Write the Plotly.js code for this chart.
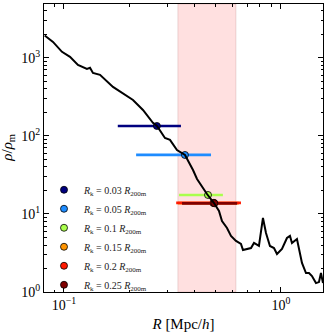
<!DOCTYPE html>
<html>
<head>
<meta charset="utf-8">
<script src="https://cdn.plot.ly/plotly-3.0.1.min.js"></script>
<style>
html,body{margin:0;padding:0;background:#fff;}
#chart{width:328px;height:332px;}
</style>
</head>
<body>
<div id="chart"></div>
<script>
// density profile rho/rho_m against R [Mpc/h]
const profR = [0.0815,0.0890,0.0979,0.1066,0.1160,0.1276,0.1318,0.1360,0.1466,0.1682,
0.2080,0.2312,0.2570,0.2683,0.2920,0.3080,0.3317,0.3611,0.3932,0.4103,
0.4560,0.4912,0.5180,0.5348,0.5640,0.5884,0.6204,0.6541,0.6682,0.7275,
0.7510,0.7915,0.8260,0.8530,0.8896,0.9284,0.9585,1.0107,1.0656,1.1002,
1.1238,1.1849,1.2496,1.3037,1.3459,1.3895,1.4497,1.4966,1.5288,1.562];
const profRho = [1930,1600,1194,1030,813,723,745,642,606,424,
289,215,147,134,94,89,66,57,36.6,28.1,
18.0,13.8,10.9,8.13,6.62,5.23,4.51,4.12,3.45,3.66,
4.25,3.89,8.89,5.70,3.89,3.66,3.07,3.56,4.92,5.23,
4.25,4.78,2.36,1.75,1.75,1.60,1.30,1.34,1.75,1.30];

// R_k estimates: point, horizontal extent, level
const rkLabels = ["0.03","0.05","0.1","0.15","0.2","0.25"];
const rkColors = ["#00007f","#1e8cff","#aaff4d","#ff9400","#ff1a00","#7f0000"];
const rkPoint = [0.268,0.361,0.461,0.488,0.491,0.493];
const rkLow = [0.177,0.215,0.339,0.335,0.329,0.350];
const rkHigh = [0.346,0.476,0.540,0.640,0.654,0.628];
const rkRho = [134,57,17.5,13.8,13.9,13.7];

// shaded band
const bandLo = 0.335;
const bandHi = 0.620;

const xTickVals = [0.1,1];
const xTickText = ["10<sup>−1</sup>","10<sup>0</sup>"];
const yTickVals = [1,10,100,1000];
const yTickText = ["10<sup>0</sup>","10<sup>1</sup>","10<sup>2</sup>","10<sup>3</sup>"];

const serif = "Liberation Serif, Times New Roman, serif";

let traces = [];
for(let i = 0; i < rkLabels.length; i++){
  traces.push({
    x: [rkPoint[i]],
    y: [rkRho[i]],
    type: "scatter",
    mode: "markers",
    name: "<i>R</i><sub>k</sub> = " + rkLabels[i] + " <i>R</i><sub>200m</sub>",
    marker: {color: rkColors[i], size: 7, line: {color: "#000", width: 0.8}},
    error_x: {
      type: "data", symmetric: false,
      array: [rkHigh[i] - rkPoint[i]],
      arrayminus: [rkPoint[i] - rkLow[i]],
      color: rkColors[i], thickness: 2.7, width: 0
    }
  });
}
traces.push({
  x: profR, y: profRho, type: "scatter", mode: "lines",
  line: {color: "#000", width: 2}, showlegend: false
});

const axisCommon = {
  type: "log",
  showgrid: false, zeroline: false,
  showline: true, linecolor: "#000", linewidth: 1, mirror: "allticks",
  ticks: "inside", ticklen: 5, tickcolor: "#000",
  tickfont: {family: serif, size: 14, color: "#000"},
  minor: {ticks: "inside", ticklen: 2.5, tickcolor: "#000", dtick: "D1", showgrid: false},
  tickmode: "array"
};

let layout = {
  width: 328, height: 332,
  margin: {l: 44, r: 5, t: 4, b: 40},
  paper_bgcolor: "#fff", plot_bgcolor: "#fff",
  showlegend: true,
  legend: {
    x: 0.0, y: 0.19, xanchor: "left", yanchor: "middle",
    bgcolor: "rgba(0,0,0,0)", borderwidth: 0,
    font: {family: serif, size: 10, color: "#222"},
    itemwidth: 30, tracegroupgap: 0
  },
  xaxis: Object.assign({}, axisCommon, {
    range: [Math.log10(0.0809), Math.log10(1.562)],
    tickvals: xTickVals, ticktext: xTickText,
    title: {text: "<i>R</i> [Mpc/<i>h</i>]", font: {family: serif, size: 15, color: "#000"}}
  }),
  yaxis: Object.assign({}, axisCommon, {
    range: [0, 3.69],
    tickvals: yTickVals, ticktext: yTickText
  }),
  annotations: [{
    text: "<i>ρ</i>/<i>ρ</i><sub>m</sub>", textangle: -90,
    xref: "paper", yref: "paper", x: -0.13, y: 0.5,
    xanchor: "center", yanchor: "middle", showarrow: false,
    font: {family: serif, size: 15, color: "#000"}
  }],
  shapes: [{
    type: "rect", xref: "x", yref: "paper",
    x0: bandLo, x1: bandHi, y0: 0, y1: 1,
    fillcolor: "rgba(255,0,0,0.12)", line: {color: "rgba(180,120,120,0.25)", width: 1},
    layer: "below"
  }]
};

Plotly.newPlot("chart", traces, layout, {staticPlot: true});
</script>
</body>
</html>
